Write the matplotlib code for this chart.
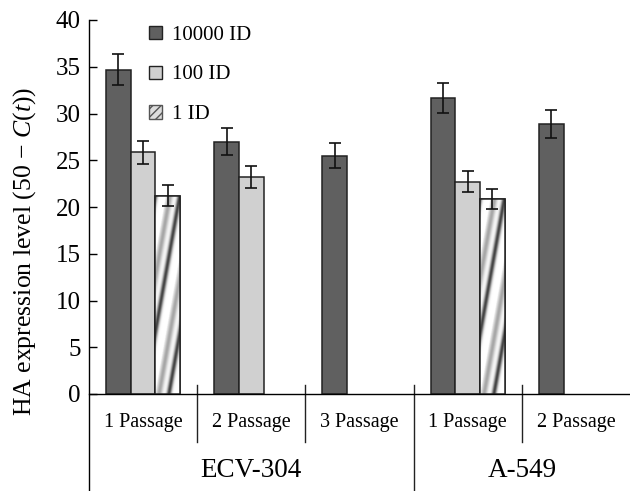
import matplotlib
matplotlib.use("Agg")
import matplotlib.pyplot as plt
import numpy as np

plt.rcParams["font.family"] = ["Liberation Serif", "DejaVu Serif"]
plt.rcParams["mathtext.fontset"] = "custom"
plt.rcParams["mathtext.it"] = "Liberation Serif:italic"
plt.rcParams["mathtext.rm"] = "Liberation Serif"

passages = ["1 Passage", "2 Passage", "3 Passage", "1 Passage", "2 Passage"]
groups = ["ECV-304", "A-549"]
group_sizes = [3, 2]

dose_labels = ["10000 ID", "100 ID", "1 ID"]
high = [34.7, 27.0, 25.5, 31.7, 28.9]
high_err = [1.7, 1.4, 1.3, 1.6, 1.5]
mid = [25.85, 23.2, np.nan, 22.7, np.nan]
mid_err = [1.2, 1.15, np.nan, 1.1, np.nan]
low = [21.2, np.nan, np.nan, 20.85, np.nan]
low_err = [1.1, np.nan, np.nan, 1.05, np.nan]

DARK, LIGHT, EDGE = "#606060", "#d0d0d0", "#222222"

fig = plt.figure(figsize=(6.30, 4.91), dpi=100)
ax = fig.add_axes([89 / 630, 1 - 394 / 491, 1 - 89 / 630, 374 / 491])

x = np.arange(len(passages)) + 0.5
w = 0.228
ekw = dict(fmt="none", ecolor="#111111", elinewidth=1.2, capsize=4, capthick=1.2, zorder=4)

ax.bar(x - w, high, w, color=DARK, edgecolor=EDGE, linewidth=1.1, label=dose_labels[0])
ax.errorbar(x - w, high, yerr=high_err, **ekw)
ax.bar(x, mid, w, color=LIGHT, edgecolor=EDGE, linewidth=1.1, label=dose_labels[1])
ax.errorbar(x, mid, yerr=mid_err, **ekw)

# "1 ID" bars: white with steep grey streaks, clipped to each bar
lows = ax.bar(x + w, low, w, color="white", edgecolor=EDGE, linewidth=1.1, zorder=3)
ny, nx = 400, 60
for p in lows.patches:
    if not np.isfinite(p.get_height()):
        continue
    x0, h = p.get_x(), p.get_height()
    gx, gy = np.meshgrid(np.linspace(0, 25, nx), np.linspace(0, h * 9.35, ny))
    u = (gx - gy / 5.5) % 25
    streak = 0.75 * np.exp(-((u - 14) ** 2) / 6) + 0.35 * np.exp(-((u - 4) ** 2) / 10)
    im = ax.imshow(1 - streak, cmap="gray", vmin=0, vmax=1, origin="lower",
                   extent=[x0, x0 + w, 0, h], aspect="auto", zorder=3.5,
                   interpolation="bilinear")
    im.set_clip_path(p)
ax.bar(x + w, low, w, fill=False, edgecolor=EDGE, linewidth=1.1, zorder=3.8)
ax.errorbar(x + w, low, yerr=low_err, **ekw)

ax.set_xlim(0, len(passages))
ax.set_ylim(0, 40)
ax.set_yticks(range(0, 41, 5))
ax.set_xticks([])
ax.tick_params(axis="y", direction="in", length=6, width=1, labelsize=18, pad=6)
for s in ("top", "right"):
    ax.spines[s].set_visible(False)
ax.spines["left"].set_bounds(-10.5, 40)
ax.spines["bottom"].set_linewidth(1)
ax.spines["left"].set_linewidth(1)

# category labels and separators below the axis
for xi, lab in zip(x, passages):
    ax.text(xi, -3.0, lab, ha="center", va="center", fontsize=14.5, clip_on=False)
edges = np.cumsum(group_sizes)
for b in range(1, len(passages)):
    bottom = -10.5 if b in edges else -5.1
    ax.plot([b, b], [1.0, bottom], color=EDGE, lw=1, clip_on=False)
start = 0
for g, n in zip(groups, group_sizes):
    ax.text(start + n / 2, -8.2, g, ha="center", va="center", fontsize=19.5, clip_on=False)
    start += n

fig.text(25 / 630, 1 - 251 / 491, "HA expression level (50 \u2212 $C$($t$))",
         rotation=90, ha="center", va="center", fontsize=18.5)

# legend with hatched proxy
plt.rcParams["hatch.color"] = "#666666"
h1 = plt.Rectangle((0, 0), 1, 1, fc=DARK, ec=EDGE, lw=1)
h2 = plt.Rectangle((0, 0), 1, 1, fc=LIGHT, ec=EDGE, lw=1)
h3 = plt.Rectangle((0, 0), 1, 1, fc="#dddddd", ec="#555555", hatch="////", lw=1)
ax.legend([h1, h2, h3], dose_labels, loc="upper left", bbox_to_anchor=(0.077, 1.035),
          frameon=False, fontsize=15, handlelength=0.6, handleheight=0.6,
          handletextpad=0.5, labelspacing=1.0)

fig.savefig("out.png", dpi=100)
